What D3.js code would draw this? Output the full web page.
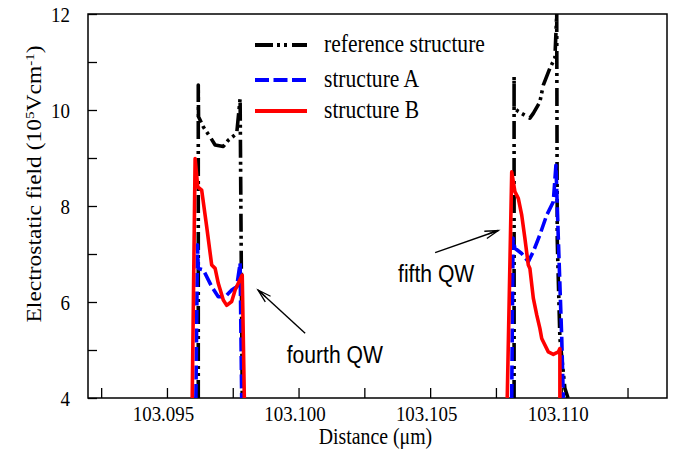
<!DOCTYPE html>
<html>
<head>
<meta charset="utf-8">
<script src="https://cdn.jsdelivr.net/npm/d3@7"></script>
<style>
  html, body { margin: 0; padding: 0; background: #fff; }
  svg { display: block; }
  .serif { font-family: "Liberation Serif", "Times New Roman", serif; }
  .sans { font-family: "Liberation Sans", Arial, sans-serif; }
</style>
</head>
<body>
<svg id="chart" width="676" height="467"></svg>
<script>
// Electrostatic field profiles across the fourth and fifth quantum wells.
// x in micrometres, y in 10^5 V/cm; null separates the two wells.
const refX = [103.09619, 103.09619, 103.09620, 103.09638, 103.09664, 103.09683, 103.09714, 103.09733, 103.09765, 103.09778, 103.09786,
              null,
              103.10819, 103.10819, 103.10819, 103.10835, 103.10879, 103.10892, 103.10917, 103.10930, 103.10955, 103.10974, 103.10981, 103.10983, 103.10993, 103.11012, 103.11024];
const refY = [4.0, 10.52, 9.86, 9.65, 9.44, 9.27, 9.24, 9.37, 9.51, 10.24, 4.0,
              null,
              4.0, 10.69, 10.04, 9.97, 9.83, 9.93, 10.17, 10.52, 10.87, 11.08, 12.0, 7.3, 5.25, 4.2, 4.0];

const aX = [103.09610, 103.09616, 103.09619, 103.09638, 103.09651, 103.09670, 103.09695, 103.09721, 103.09746, 103.09765, 103.09778, 103.09784,
            null,
            103.10810, 103.10815, 103.10822, 103.10848, 103.10873, 103.10892, 103.10917, 103.10943, 103.10968, 103.10978, 103.10987, 103.11000, 103.11006];
const aY = [4.0, 7.19, 6.70, 6.67, 6.53, 6.32, 6.11, 6.11, 6.25, 6.32, 6.81, 4.0,
            null,
            4.0, 7.33, 7.12, 7.01, 6.84, 7.05, 7.40, 7.81, 8.09, 8.85, 7.33, 5.25, 4.0];

const bX = [103.09596, 103.09607, 103.09617, 103.09632, 103.09651, 103.09670, 103.09683, 103.09695, 103.09714, 103.09727, 103.09746, 103.09759, 103.09771, 103.09786, 103.09794,
            null,
            103.10793, 103.10810, 103.10822, 103.10835, 103.10848, 103.10860, 103.10873, 103.10879, 103.10892, 103.10905, 103.10917, 103.10924, 103.10930, 103.10949, 103.10968, 103.10987, 103.10993, 103.10993];
const bY = [4.0, 8.99, 8.40, 8.33, 7.57, 6.77, 6.70, 6.39, 6.04, 5.93, 6.01, 6.25, 6.39, 6.56, 4.0,
            null,
            4.0, 8.71, 8.30, 8.16, 7.81, 7.33, 6.77, 6.70, 6.08, 5.73, 5.45, 5.24, 5.17, 4.96, 4.91, 4.96, 5.03, 4.0];

const seriesNames = ["reference structure", "structure A", "structure B"];
const xTicks = [103.0925, 103.095, 103.0975, 103.100, 103.1025, 103.105, 103.1075, 103.110, 103.1125];
const xTickLabels = [103.095, 103.100, 103.105, 103.110];
const yTicks = [4, 5, 6, 7, 8, 9, 10, 11, 12];
const yTickLabels = [4, 6, 8, 10, 12];

// Annotations: [label, textX, textY, tailX, tailY, tipX, tipY] in data units
const notes = [
  ["fourth QW", 103.09955, 4.73, 103.10025, 5.35, 103.09846, 6.25],
  ["fifth QW", 103.10378, 6.42, 103.10519, 7.03, 103.10759, 7.49]
];

// Glyphs are drawn slightly narrower than tall
const SX = 0.88;

const svg = d3.select("#chart");
const margin = { left: 88, right: 9, top: 14, bottom: 69 };
const W = 676, H = 467;
const x = d3.scaleLinear().domain([103.092, 103.114]).range([margin.left, W - margin.right]);
const y = d3.scaleLinear().domain([4, 12]).range([H - margin.bottom, margin.top]);

svg.append("defs").append("clipPath").attr("id", "plot-clip")
  .append("rect")
  .attr("x", x.range()[0]).attr("y", y.range()[1])
  .attr("width", x.range()[1] - x.range()[0])
  .attr("height", y.range()[0] - y.range()[1]);

// Axes with inward ticks
const xAxis = d3.axisBottom(x).tickValues(xTicks).tickSizeInner(-10).tickSizeOuter(0)
  .tickFormat(d => xTickLabels.some(v => Math.abs(v - d) < 1e-7) ? d3.format(".3f")(d) : "");
const gx = svg.append("g").attr("transform", `translate(0,${y(4)})`).call(xAxis);
gx.select(".domain").remove();
gx.selectAll(".tick line").attr("stroke", "#000").attr("stroke-width", 1.3);
gx.selectAll(".tick text").attr("class", "serif").attr("font-size", 21.5).attr("fill", "#000")
  .attr("x", null).attr("y", null).attr("dy", null)
  .attr("transform", `translate(-4,23) scale(${SX},1)`);

const yAxis = d3.axisLeft(y).tickValues(yTicks).tickSizeInner(-9).tickSizeOuter(0)
  .tickFormat(d => yTickLabels.includes(d) ? String(d) : "");
const gy = svg.append("g").attr("transform", `translate(${x.range()[0]},0)`).call(yAxis);
gy.select(".domain").remove();
gy.selectAll(".tick line").attr("stroke", "#000").attr("stroke-width", 1.3);
gy.selectAll(".tick text").attr("class", "serif").attr("font-size", 21.5).attr("fill", "#000")
  .attr("x", null).attr("dy", null)
  .attr("transform", `translate(-18,7.3) scale(${SX},1)`);

// Frame
svg.append("rect")
  .attr("x", x.range()[0]).attr("y", y.range()[1])
  .attr("width", x.range()[1] - x.range()[0])
  .attr("height", y.range()[0] - y.range()[1])
  .attr("fill", "none").attr("stroke", "#000").attr("stroke-width", 1.5);

// Axis titles
svg.append("text").attr("class", "serif")
  .attr("transform", `translate(${(x.range()[0] + x.range()[1]) / 2 - 2},444) scale(${SX},1)`)
  .attr("text-anchor", "middle").attr("font-size", 22.5)
  .text("Distance (\u03bcm)");

const yt = svg.append("text").attr("class", "serif")
  .attr("transform", `translate(41,184) scale(${SX},1) rotate(-90)`)
  .attr("text-anchor", "middle").attr("font-size", 23.5);
yt.append("tspan").text("Electrostatic field (10");
yt.append("tspan").attr("font-size", 15).attr("baseline-shift", "super").text("5");
yt.append("tspan").text("Vcm");
yt.append("tspan").attr("font-size", 15).attr("baseline-shift", "super").text("-1");
yt.append("tspan").text(")");

// Series
const styles = [
  { xs: refX, ys: refY, color: "#000000", dash: "18,4,3,4,3,5" },
  { xs: aX, ys: aY, color: "#0000ff", dash: "14,4.5" },
  { xs: bX, ys: bY, color: "#ff0000", dash: null }
];
const line = d3.line()
  .defined(d => d[1] !== null)
  .x(d => x(d[0])).y(d => y(d[1]));

const plot = svg.append("g").attr("clip-path", "url(#plot-clip)");
styles.forEach(s => {
  const pts = s.xs.map((v, i) => [v, s.ys[i]]);
  plot.append("path")
    .attr("d", line(pts))
    .attr("fill", "none")
    .attr("stroke", s.color)
    .attr("stroke-width", 3.6)
    .attr("stroke-linejoin", "round")
    .attr("stroke-dasharray", s.dash);
});

// Legend
const leg = svg.append("g");
styles.forEach((s, i) => {
  const ly = [45, 80, 111][i];
  leg.append("line")
    .attr("x1", 255).attr("x2", 307).attr("y1", ly).attr("y2", ly)
    .attr("stroke", s.color).attr("stroke-width", 4)
    .attr("stroke-dasharray", s.dash);
  leg.append("text").attr("class", "serif")
    .attr("transform", `translate(324,${ly + 7}) scale(${SX},1)`)
    .attr("font-size", 24.5)
    .text(seriesNames[i]);
});

// Annotations with arrows
notes.forEach(n => {
  const [label, tx, ty, x0, y0, x1, y1] = n;
  const X0 = x(x0), Y0 = y(y0), X1 = x(x1), Y1 = y(y1);
  svg.append("line").attr("x1", X0).attr("y1", Y0).attr("x2", X1).attr("y2", Y1)
    .attr("stroke", "#000").attr("stroke-width", 1.4);
  const ang = Math.atan2(Y0 - Y1, X0 - X1);
  const L = 14, spread = 0.28;
  const p1 = [X1 + L * Math.cos(ang + spread), Y1 + L * Math.sin(ang + spread)];
  const p2 = [X1 + L * Math.cos(ang - spread), Y1 + L * Math.sin(ang - spread)];
  const pm = [X1 + L * 0.75 * Math.cos(ang), Y1 + L * 0.75 * Math.sin(ang)];
  svg.append("path")
    .attr("d", `M${p1[0]},${p1[1]}L${X1},${Y1}L${p2[0]},${p2[1]}M${X1},${Y1}L${pm[0]},${pm[1]}`)
    .attr("fill", "none").attr("stroke", "#000").attr("stroke-width", 1.3);
  svg.append("text").attr("class", "sans")
    .attr("transform", `translate(${x(tx)},${y(ty)}) scale(${SX},1)`)
    .attr("font-size", 24)
    .text(label);
});
</script>
</body>
</html>
